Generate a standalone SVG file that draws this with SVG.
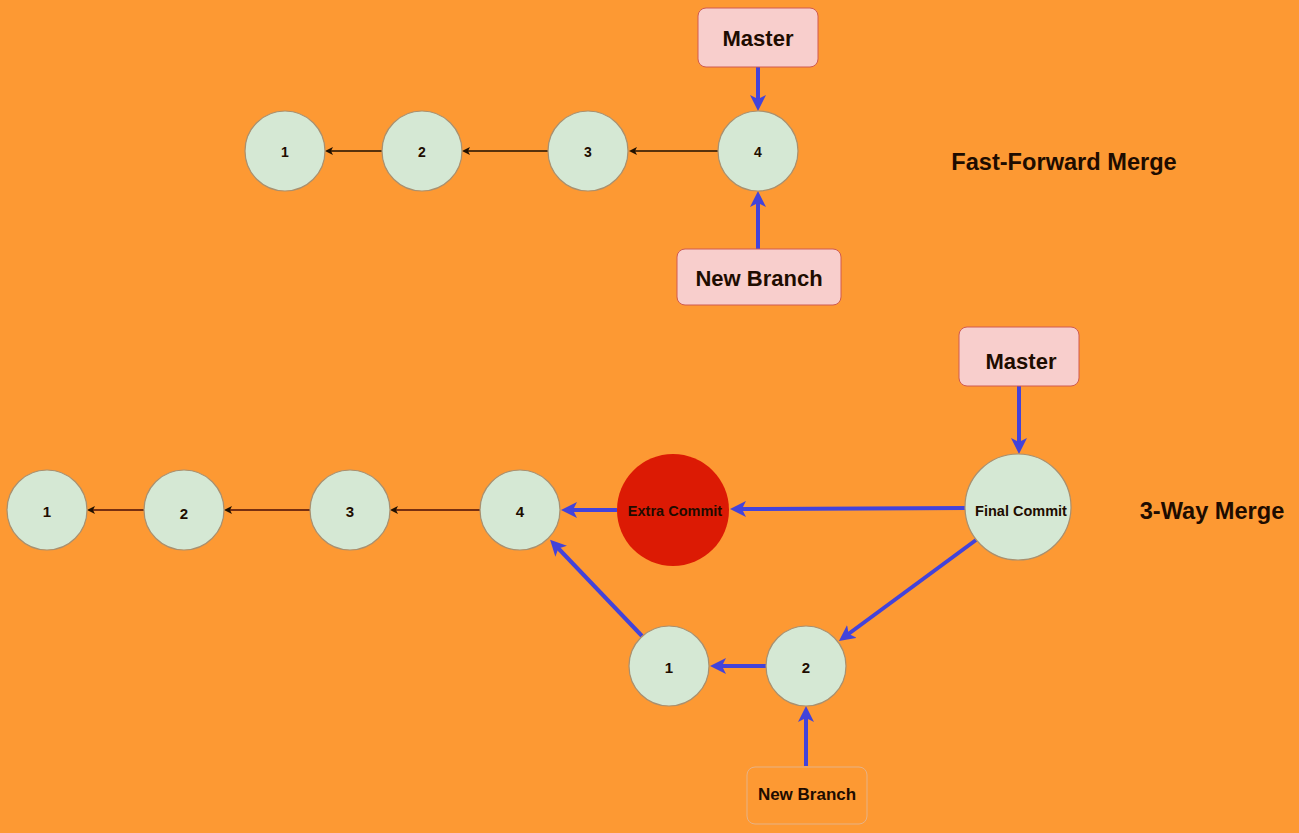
<svg xmlns="http://www.w3.org/2000/svg" width="1299" height="833" viewBox="0 0 1299 833">
<defs>
<style>
.c{fill:#d5e8d4;stroke:#a89070;stroke-width:1.2}
.b{fill:#f8cecc;stroke:#d05a50;stroke-width:1}
.t{font-family:"Liberation Sans",Arial,sans-serif;font-weight:bold;fill:#1e0c00;text-anchor:middle;dominant-baseline:central}
.blue{stroke:#4343da;stroke-width:4;fill:none}
.thin{stroke:#201000;stroke-width:1.3;fill:none}
.thinr{stroke:#4a0c06;stroke-width:1.6;fill:none}
</style>
<marker id="ab" markerUnits="userSpaceOnUse" markerWidth="18" markerHeight="16" viewBox="0 0 18 16" refX="6" refY="8" orient="auto">
<path d="M0,0 L16,8 L0,16 L4,8 Z" fill="#4343da"/>
</marker>
<marker id="ak" markerUnits="userSpaceOnUse" markerWidth="9" markerHeight="8" viewBox="0 0 9 8" refX="2" refY="4" orient="auto">
<path d="M0,0 L8,4 L0,8 L2,4 Z" fill="#201000"/>
</marker>
</defs>
<rect x="0" y="0" width="1299" height="833" fill="#fd9933"/>

<g id="connectors">
<line class="thin" x1="719" y1="151" x2="635" y2="151" marker-end="url(#ak)"/>
<line class="thin" x1="549" y1="151" x2="468" y2="151" marker-end="url(#ak)"/>
<line class="thin" x1="383" y1="151" x2="331" y2="151" marker-end="url(#ak)"/>
<line class="blue" x1="758" y1="67" x2="758" y2="101" marker-end="url(#ab)"/>
<line class="blue" x1="758" y1="249" x2="758" y2="201" marker-end="url(#ab)"/>

<line class="thinr" x1="481" y1="510" x2="396" y2="510" marker-end="url(#ak)"/>
<line class="thinr" x1="311" y1="510" x2="230" y2="510" marker-end="url(#ak)"/>
<line class="thinr" x1="145" y1="510" x2="93" y2="510" marker-end="url(#ak)"/>
<line class="blue" x1="1019" y1="386" x2="1019" y2="444" marker-end="url(#ab)"/>
<line class="blue" x1="966" y1="508" x2="740" y2="509" marker-end="url(#ab)"/>
<line class="blue" x1="976" y1="540" x2="847" y2="635" marker-end="url(#ab)"/>
<line class="blue" x1="766" y1="666" x2="720" y2="666" marker-end="url(#ab)"/>
<line class="blue" x1="642" y1="636" x2="557" y2="547" marker-end="url(#ab)"/>
<line class="blue" x1="617" y1="510" x2="571" y2="510" marker-end="url(#ab)"/>
<line class="blue" x1="806" y1="766" x2="806" y2="716" marker-end="url(#ab)"/>
</g>

<g id="ff-c1"><circle class="c" cx="285" cy="151" r="40"/><text class="t" x="285" y="152" font-size="14">1</text></g>
<g id="ff-c2"><circle class="c" cx="422" cy="151" r="40"/><text class="t" x="422" y="152" font-size="14">2</text></g>
<g id="ff-c3"><circle class="c" cx="588" cy="151" r="40"/><text class="t" x="588" y="152" font-size="14">3</text></g>
<g id="ff-c4"><circle class="c" cx="758" cy="151" r="40"/><text class="t" x="758" y="152" font-size="14">4</text></g>
<g id="ff-master"><rect class="b" x="698" y="8" width="120" height="59" rx="8"/><text class="t" x="758" y="38" font-size="22">Master</text></g>
<g id="ff-newbranch"><rect class="b" x="677" y="249" width="164" height="56" rx="8"/><text class="t" x="759" y="278" font-size="22">New Branch</text></g>
<g id="ff-title"><text class="t" x="1064" y="162" font-size="23.6">Fast-Forward Merge</text></g>

<g id="tw-c1"><circle class="c" cx="47" cy="510" r="40"/><text class="t" x="47" y="511" font-size="15">1</text></g>
<g id="tw-c2"><circle class="c" cx="184" cy="510" r="40"/><text class="t" x="184" y="513" font-size="15">2</text></g>
<g id="tw-c3"><circle class="c" cx="350" cy="510" r="40"/><text class="t" x="350" y="511" font-size="15">3</text></g>
<g id="tw-c4"><circle class="c" cx="520" cy="510" r="40"/><text class="t" x="520" y="511" font-size="15">4</text></g>
<g id="tw-extra"><circle cx="673" cy="510" r="56" fill="#dc1a04"/><text class="t" x="675" y="511" font-size="14.5">Extra Commit</text></g>
<g id="tw-final"><circle class="c" cx="1018" cy="507" r="53"/><text class="t" x="1021" y="511" font-size="14.5">Final Commit</text></g>
<g id="tw-b1"><circle class="c" cx="669" cy="666" r="40"/><text class="t" x="669" y="667" font-size="15">1</text></g>
<g id="tw-b2"><circle class="c" cx="806" cy="666" r="40"/><text class="t" x="806" y="667" font-size="15">2</text></g>
<g id="tw-master"><rect class="b" x="959" y="327" width="120" height="59" rx="8"/><text class="t" x="1021" y="361" font-size="22">Master</text></g>
<g id="tw-newbranch"><rect x="747" y="767" width="120" height="57" rx="8" fill="none" stroke="#e6b287" stroke-width="1"/><text class="t" x="807" y="794" font-size="17">New Branch</text></g>
<g id="tw-title"><text class="t" x="1212" y="511" font-size="23.6">3-Way Merge</text></g>
</svg>
